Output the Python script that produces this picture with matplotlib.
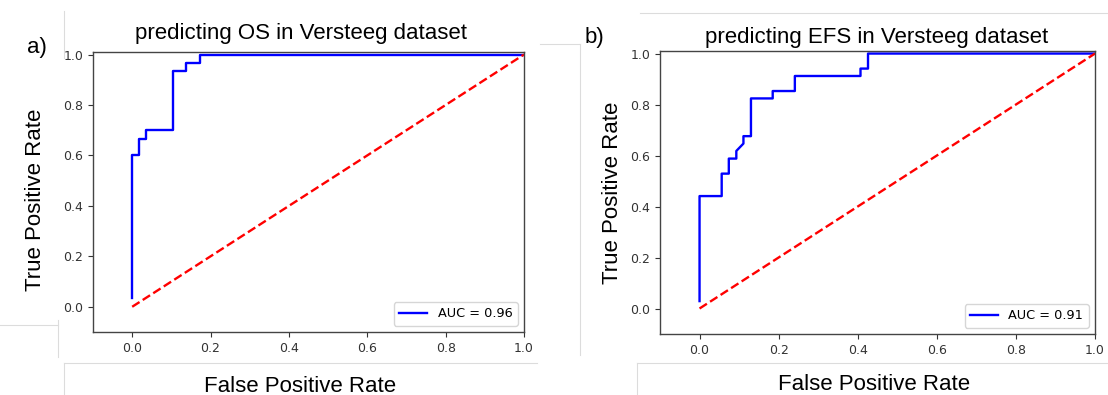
import matplotlib
matplotlib.use("Agg")
import matplotlib.pyplot as plt
from matplotlib.lines import Line2D

W, H = 1108, 395

# ROC points
fpr_os = [0.0, 0.0, 0.017, 0.017, 0.034, 0.034, 0.103, 0.103, 0.138, 0.138, 0.172, 0.172, 1.0]
tpr_os = [0.033, 0.6, 0.6, 0.667, 0.667, 0.7, 0.7, 0.933, 0.933, 0.967, 0.967, 1.0, 1.0]
auc_os = 0.96

fpr_efs = [0.0, 0.0, 0.056, 0.056, 0.074, 0.074, 0.093, 0.093, 0.111, 0.111, 0.130, 0.130,
           0.185, 0.185, 0.241, 0.241, 0.407, 0.407, 0.426, 0.426, 1.0]
tpr_efs = [0.029, 0.441, 0.441, 0.529, 0.529, 0.588, 0.588, 0.618, 0.647, 0.676, 0.676, 0.824,
           0.824, 0.853, 0.853, 0.912, 0.912, 0.941, 0.941, 1.0, 1.0]
auc_efs = 0.91

chance = [0, 1]
xticks = [0.0, 0.2, 0.4, 0.6, 0.8, 1.0]
yticks = [0.0, 0.2, 0.4, 0.6, 0.8, 1.0]

panels = [
    dict(fpr=fpr_os, tpr=tpr_os, auc=auc_os, title="predicting OS in Versteeg dataset",
         tag="a)", box=(93, 52, 524, 332), title_xy=(301, 34), xl_xy=(300, 386),
         yl_xy=(36, 200), tag_xy=(37, 47)),
    dict(fpr=fpr_efs, tpr=tpr_efs, auc=auc_efs, title="predicting EFS in Versteeg dataset",
         tag="b)", box=(660, 51, 1095, 334), title_xy=(877, 37), xl_xy=(874, 385),
         yl_xy=(613, 193), tag_xy=(594, 37)),
]

TXT = ["Liberation Sans", "DejaVu Sans"]


def fx(x):
    return x / W


def fy(y):
    return 1 - y / H


fig = plt.figure(figsize=(W / 100, H / 100), dpi=100)

# faint edges of the pasted screenshot pieces
grey = "#dcdcdc"
for (x0, y0, x1, y1) in [(64, 363, 537, 363), (64, 363, 64, 395), (637, 363, 1108, 363),
                         (637, 363, 637, 395), (640, 13, 1108, 13), (64, 11, 64, 58),
                         (0, 325, 58, 325), (58, 320, 58, 357), (540, 44, 580, 44),
                         (580, 44, 580, 355)]:
    fig.add_artist(Line2D([fx(x0), fx(x1)], [fy(y0), fy(y1)], color=grey, lw=0.8))

for p in panels:
    l, t, r, b = p["box"]
    ax = fig.add_axes([fx(l), fy(b), (r - l) / W, (b - t) / H])
    ax.plot(p["fpr"], p["tpr"], color="blue", lw=1.7, label="AUC = %0.2f" % p["auc"])
    ax.plot(chance, chance, "r--", lw=1.7)
    ax.set_xlim(-0.1, 1.0)
    ax.set_ylim(-0.1, 1.01)
    ax.set_xticks(xticks)
    ax.set_yticks(yticks)
    ax.tick_params(labelsize=9, colors="#333333", length=3.5, width=0.8)
    for s in ax.spines.values():
        s.set_color("#444444")
        s.set_linewidth(1.0)
    leg = ax.legend(loc="lower right", fontsize=9.3, handlelength=2.2, borderpad=0.4)
    leg.get_frame().set_edgecolor("#cccccc")

    fig.text(fx(p["title_xy"][0]), fy(p["title_xy"][1]), p["title"], family=TXT,
             fontsize=16, ha="center", va="center")
    fig.text(fx(p["xl_xy"][0]), fy(p["xl_xy"][1]), "False Positive Rate", family=TXT,
             fontsize=16, ha="center", va="center")
    fig.text(fx(p["yl_xy"][0]), fy(p["yl_xy"][1]), "True Positive Rate", family=TXT,
             fontsize=16, ha="center", va="center", rotation=90)
    fig.text(fx(p["tag_xy"][0]), fy(p["tag_xy"][1]), p["tag"], family=TXT,
             fontsize=16, ha="center", va="center")

fig.savefig("out.png", dpi=100)
